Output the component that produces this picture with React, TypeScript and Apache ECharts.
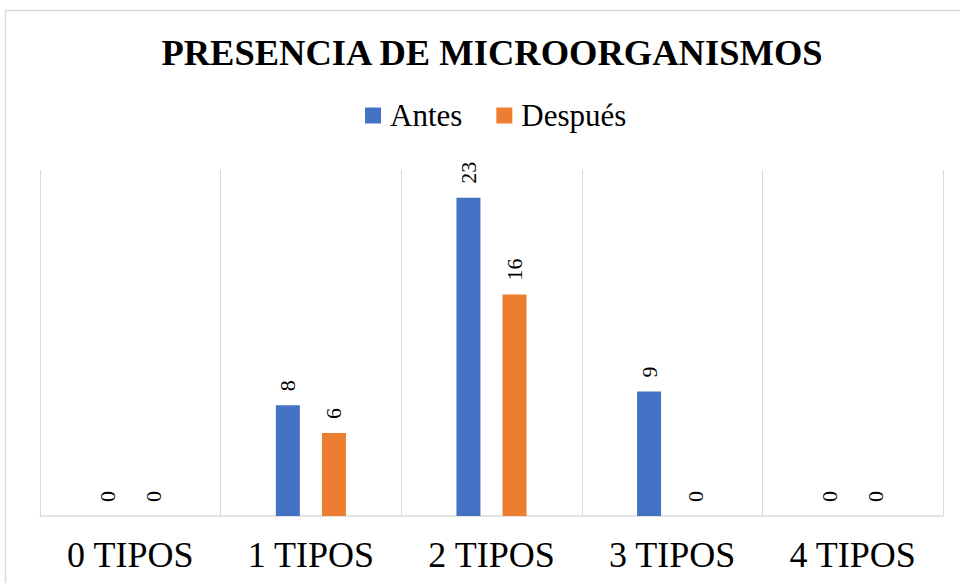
import React, { useEffect, useRef } from "react";
import * as echarts from "echarts";

const categories = ["0 TIPOS", "1 TIPOS", "2 TIPOS", "3 TIPOS", "4 TIPOS"];
const antes = [0, 8, 23, 9, 0];
const despues = [0, 6, 16, 0, 0];
const seriesNames = ["Antes", "Después"];
const titleText = "PRESENCIA DE MICROORGANISMOS";

const FONT = "Liberation Serif, Times New Roman, serif";

export default function App() {
  const ref = useRef<HTMLDivElement>(null);
  useEffect(() => {
    if (!ref.current) return;
    const chart = echarts.init(ref.current, undefined, { renderer: "svg" });
    const label = {
      show: true,
      position: "top",
      rotate: 90,
      align: "left",
      verticalAlign: "middle",
      distance: 14,
      fontFamily: FONT,
      fontSize: 22,
      color: "#000",
    };
    chart.setOption({
      animation: false,
      backgroundColor: "#fff",
      title: {
        text: titleText,
        left: 487,
        textAlign: "center",
        top: 29,
        textStyle: { fontFamily: FONT, fontSize: 36.5, fontWeight: "bold", color: "#000" },
      },
      legend: {
        data: seriesNames,
        left: 360,
        top: 95,
        itemWidth: 16,
        itemHeight: 16,
        itemGap: 34,
        icon: "rect",
        textStyle: { fontFamily: FONT, fontSize: 31, color: "#000", padding: [0, 0, 0, 4] },
      },
      graphic: [
        {
          type: "rect",
          shape: { x: 5.5, y: 10.5, width: 1000, height: 1000 },
          style: { fill: "none", stroke: "#d9d9d9", lineWidth: 1.5 },
          silent: true,
          z: -1,
        },
      ],
      grid: { left: 40, right: 17, top: 170, bottom: 67, containLabel: false },
      xAxis: {
        type: "category",
        data: categories,
        axisLine: { show: true, lineStyle: { color: "#d9d9d9", width: 1.5 } },
        axisTick: { show: false },
        splitLine: { show: true, lineStyle: { color: "#d9d9d9", width: 1 } },
        axisLabel: { fontFamily: FONT, fontSize: 36, color: "#000", margin: 21 },
      },
      yAxis: {
        type: "value",
        min: 0,
        max: 25,
        show: false,
        splitLine: { show: false },
      },
      series: [
        {
          name: seriesNames[0],
          type: "bar",
          data: antes,
          barWidth: 24,
          barGap: "92%",
          itemStyle: { color: "#4472C4" },
          label,
        },
        {
          name: seriesNames[1],
          type: "bar",
          data: despues,
          barWidth: 24,
          itemStyle: { color: "#ED7D31" },
          label,
        },
      ],
    });
    return () => chart.dispose();
  }, []);
  return (
    <div
      ref={ref}
      style={{ position: "fixed", left: 0, top: 0, width: 960, height: 583 }}
    />
  );
}
